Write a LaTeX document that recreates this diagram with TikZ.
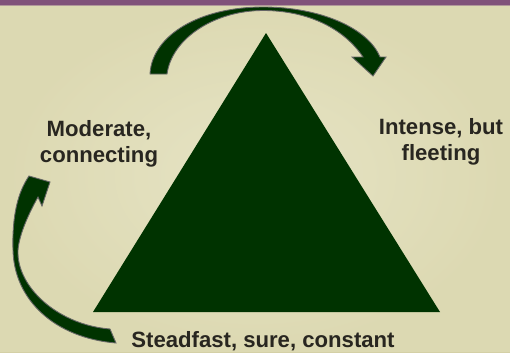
\documentclass[tikz,border=0pt]{standalone}
\usepackage{fontspec}
\setmainfont{Liberation Sans}
\definecolor{creambg}{RGB}{226,223,186}
\definecolor{creamdark}{RGB}{212,208,166}
\definecolor{plumband}{RGB}{128,82,122}
\definecolor{forest}{RGB}{0,51,0}
\definecolor{inkgrey}{RGB}{40,38,32}

\begin{document}
\begin{tikzpicture}[x=0.02cm, y=-0.02cm,
    lbl/.style={font=\fontsize{12.6}{14.8}\selectfont\bfseries, text=inkgrey, align=center, inner sep=0pt},
    curvearr/.style={fill=forest, draw=black!60, line width=0.5pt, line join=miter}
]
    \useasboundingbox (0,0) rectangle (510,352);

    % Background
    \shade[inner color=creambg!60!white, outer color=creamdark] (0,0) rectangle (510,352);
    \fill[creambg, opacity=0.6] (0,0) rectangle (510,352);
    \fill[plumband] (0,0) rectangle (510,4.5);
    \fill[plumband!50!creambg] (0,4.5) rectangle (510,5.5);

    % Triangle
    \coordinate (apex) at (266,33);
    \coordinate (baseL) at (93,312);
    \coordinate (baseR) at (440,312);
    \fill[forest] (apex) -- (baseR) -- (baseL) -- cycle;

    % Labels
    \node[lbl] (moderate) at (99,144) {Moderate,\\connecting};
    \node[lbl] (intense) at (441,142) {Intense, but\\fleeting};
    \node[lbl, anchor=base] (steadfast) at (263,347) {Steadfast, sure, constant};

    % Top arrow
    \draw[curvearr] (150,74) .. controls (152,35) and (200,7) .. (263,7)
        .. controls (320,7) and (368,28) .. (380,57)
        -- (386,57) -- (373,76) -- (352,57) -- (363,57)
        .. controls (345,30) and (310,10.5) .. (263,10.5)
        .. controls (215,10.5) and (172,38) .. (167,74) -- cycle;

    % Left arrow
    \draw[curvearr] (116,343) .. controls (55,338) and (14,300) .. (13,250)
        .. controls (12,215) and (18,192) .. (29,176)
        -- (50,182) -- (42,206) -- (38,197)
        .. controls (24,222) and (17,243) .. (18,255)
        .. controls (20,290) and (60,325) .. (110,329) -- cycle;
\end{tikzpicture}
\end{document}
